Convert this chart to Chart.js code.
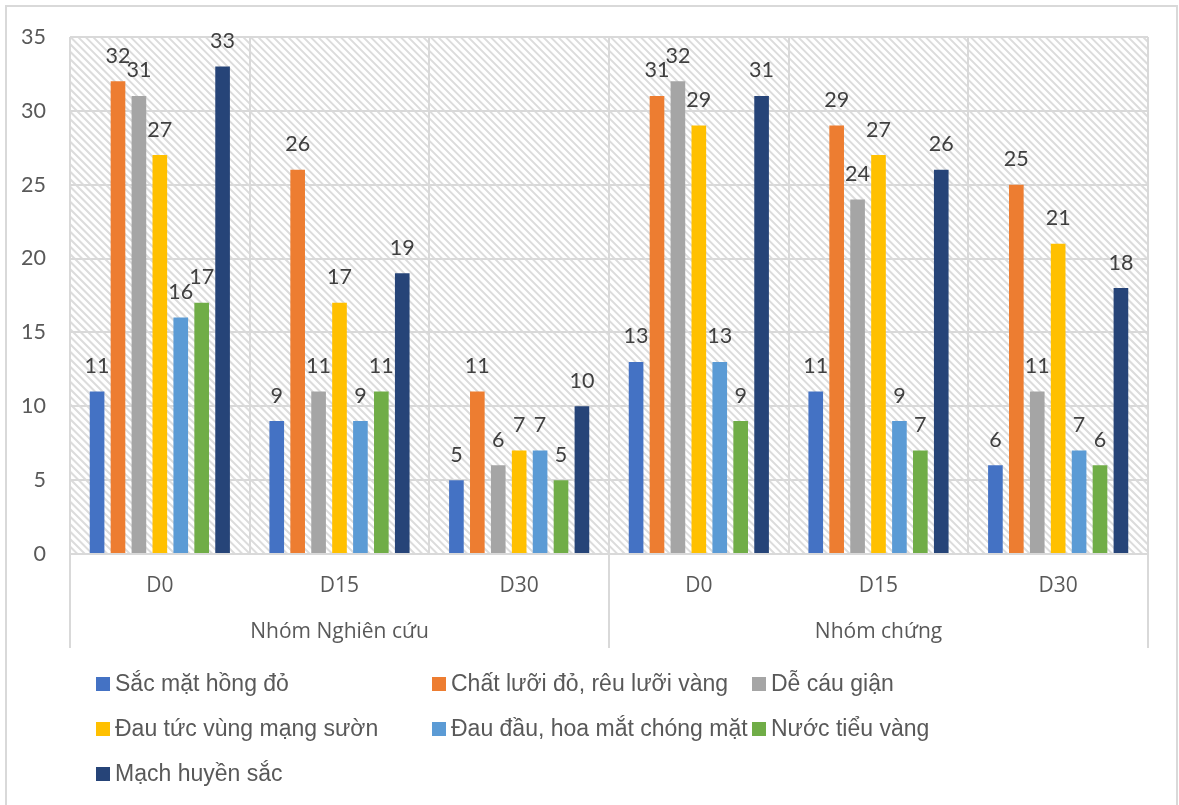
<!DOCTYPE html>
<html>
<head>
<meta charset="utf-8">
<script src="https://cdn.jsdelivr.net/npm/chart.js@4/dist/chart.umd.min.js"></script>
<style>
  html, body { margin: 0; padding: 0; background: #ffffff; }
  #wrap { position: relative; width: 1179px; height: 805px; overflow: hidden; background: #ffffff; }
  #frame { position: absolute; left: 5px; top: 5px; width: 1173px; height: 830px;
           border: 2px solid #d9d9d9; box-sizing: border-box; }
  #chart { position: absolute; left: 0; top: 0; }
  #legend { position: absolute; left: 96px; top: 661px; display: grid;
            grid-template-columns: 336px 320px auto; grid-auto-rows: 45px; }
  .item { display: flex; align-items: center; white-space: nowrap;
          font: 23px "Liberation Sans", Arial, sans-serif; color: #595959; }
  .sw { width: 14px; height: 14px; margin-right: 5px; flex: none; }
</style>
</head>
<body>
<div id="wrap">
  <div id="frame"></div>
  <canvas id="chart" width="1179" height="805"></canvas>
  <div id="legend"></div>
</div>
<script>
// Time points, grouped by patient group
const categories = ['D0', 'D15', 'D30', 'D0', 'D15', 'D30'];
const groupNames = ['Nhóm Nghiên cứu', 'Nhóm chứng'];
const groupSizes = [3, 3];

// Number of patients showing each sign
const sacMatHongDo    = [11, 9, 5, 13, 11, 6];
const chatLuoiDo      = [32, 26, 11, 31, 29, 25];
const deCauGian       = [31, 11, 6, 32, 24, 11];
const dauTucMangSuon  = [27, 17, 7, 29, 27, 21];
const dauDauHoaMat    = [16, 9, 7, 13, 9, 7];
const nuocTieuVang    = [17, 11, 5, 9, 7, 6];
const machHuyenSac    = [33, 19, 10, 31, 26, 18];

const seriesNames = [
  'Sắc mặt hồng đỏ',
  'Chất lưỡi đỏ, rêu lưỡi vàng',
  'Dễ cáu giận',
  'Đau tức vùng mạng sườn',
  'Đau đầu, hoa mắt chóng mặt',
  'Nước tiểu vàng',
  'Mạch huyền sắc'
];
const seriesValues = [sacMatHongDo, chatLuoiDo, deCauGian, dauTucMangSuon, dauDauHoaMat, nuocTieuVang, machHuyenSac];
const seriesColors = ['#4472C4', '#ED7D31', '#A5A5A5', '#FFC000', '#5B9BD5', '#70AD47', '#264478'];

const yMax = 35;
const yStep = 5;

const GRID = '#d9d9d9';
const TEXT = '#595959';
const NUM_FONT = 'Lato, "Liberation Sans", sans-serif';
const CAT_FONT = '"Open Sans", "Noto Sans", sans-serif';

// Diagonal hatch behind the plot area
const hatchBackground = {
  id: 'hatchBackground',
  beforeDraw(chart) {
    const { ctx, chartArea: a } = chart;
    ctx.save();
    ctx.beginPath();
    ctx.rect(a.left, a.top, a.right - a.left, a.bottom - a.top);
    ctx.clip();
    ctx.strokeStyle = '#dcdcdc';
    ctx.lineWidth = 2;
    const h = a.bottom - a.top;
    ctx.beginPath();
    for (let x = a.left - h; x < a.right + 8; x += 7.5) {
      ctx.moveTo(x, a.top);
      ctx.lineTo(x + h, a.bottom);
    }
    ctx.stroke();
    ctx.restore();
  }
};

// Value written above each bar
const valueLabels = {
  id: 'valueLabels',
  afterDatasetsDraw(chart) {
    const { ctx } = chart;
    ctx.save();
    ctx.font = '21.5px ' + NUM_FONT;
    ctx.fillStyle = '#404040';
    ctx.textAlign = 'center';
    ctx.textBaseline = 'alphabetic';
    chart.data.datasets.forEach((ds, i) => {
      const meta = chart.getDatasetMeta(i);
      meta.data.forEach((bar, j) => {
        const v = ds.data[j];
        if (v === null || v === undefined) return;
        ctx.fillText(String(v), bar.x, bar.y - 18.5);
      });
    });
    ctx.restore();
  }
};

// Second row of the category axis: patient groups with separators
const groupAxis = {
  id: 'groupAxis',
  afterDraw(chart) {
    const { ctx, chartArea: a } = chart;
    const x = chart.scales.x;
    ctx.save();
    ctx.strokeStyle = GRID;
    ctx.lineWidth = 2;
    ctx.font = '21px ' + CAT_FONT;
    ctx.fillStyle = TEXT;
    ctx.textAlign = 'center';
    ctx.textBaseline = 'middle';
    let start = 0;
    const edges = [x.getPixelForValue(-0.5)];
    groupNames.forEach((name, g) => {
      const end = start + groupSizes[g] - 1;
      const left = x.getPixelForValue(start - 0.5);
      const right = x.getPixelForValue(end + 0.5);
      edges.push(right);
      ctx.fillText(name, (left + right) / 2, 632);
      start = end + 1;
    });
    ctx.beginPath();
    edges.forEach(px => {
      ctx.moveTo(px, a.bottom);
      ctx.lineTo(px, 648);
    });
    ctx.stroke();
    ctx.restore();
  }
};

const chart = new Chart(document.getElementById('chart'), {
  type: 'bar',
  data: {
    labels: categories,
    datasets: seriesNames.map((name, i) => ({
      label: name,
      data: seriesValues[i],
      backgroundColor: seriesColors[i],
      borderWidth: 0,
      categoryPercentage: 0.815,
      barPercentage: 0.70
    }))
  },
  options: {
    responsive: false,
    animation: false,
    events: [],
    layout: { padding: { left: 0, right: 31, top: 36, bottom: 151 } },
    plugins: { legend: { display: false }, tooltip: { enabled: false } },
    scales: {
      x: {
        afterFit(s) { s.height = 100; },
        grid: { offset: true, color: GRID, lineWidth: 2, drawTicks: false },
        border: { display: true, color: GRID, width: 2 },
        ticks: { color: TEXT, font: { family: CAT_FONT, size: 21 }, padding: 19, maxRotation: 0 }
      },
      y: {
        min: 0,
        max: yMax,
        afterFit(s) { s.width = 70; },
        grid: { color: GRID, lineWidth: 2, drawTicks: false },
        border: { display: false },
        ticks: { stepSize: yStep, color: TEXT, font: { family: NUM_FONT, size: 21.5 }, padding: 24 }
      }
    }
  },
  plugins: [hatchBackground, valueLabels, groupAxis]
});

// Legend laid out in three columns below the chart
const legend = document.getElementById('legend');
seriesNames.forEach((name, i) => {
  const item = document.createElement('div');
  item.className = 'item';
  const sw = document.createElement('span');
  sw.className = 'sw';
  sw.style.background = seriesColors[i];
  const label = document.createElement('span');
  label.textContent = name;
  item.appendChild(sw);
  item.appendChild(label);
  legend.appendChild(item);
});
</script>
</body>
</html>
